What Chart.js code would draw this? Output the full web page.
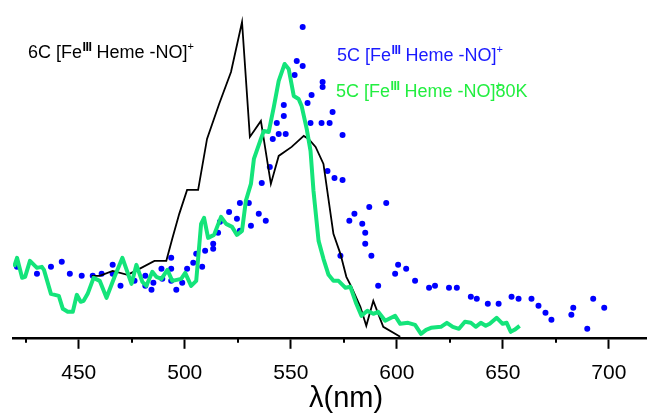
<!DOCTYPE html>
<html>
<head>
<meta charset="utf-8">
<script src="https://cdn.jsdelivr.net/npm/chart.js@4.4.1/dist/chart.umd.min.js"></script>
<style>
  html, body { margin: 0; padding: 0; background: #fff; }
  #wrap { position: relative; width: 650px; height: 415px; overflow: hidden; }
  canvas { position: absolute; left: 0; top: 0; }
  .lab { position: absolute; white-space: nowrap; font-family: "Liberation Sans", Arial, sans-serif; font-size: 18px; line-height: 18px; }
  .lab .s3 { font-size: 12.5px; font-weight: bold; position: relative; top: -7px; letter-spacing: -0.5px; margin-left: 0.5px; }
  .lab .sp { font-size: 11px; position: relative; top: -8px; }
  .lab .spz { font-size: 11px; position: relative; top: -8px; display: inline-block; width: 0; overflow: visible; }
  #xtitle { position: absolute; left: 309px; top: 383px; font-family: "Liberation Sans", Arial, sans-serif; font-size: 29px; line-height: 29px; color: #000; white-space: nowrap; }
</style>
</head>
<body>
<div id="wrap">
  <canvas id="c" width="650" height="415"></canvas>
  <div class="lab" style="left:28px; top:43px; color:#000;">6C [Fe<span class="s3">III</span> Heme -NO]<span class="sp">+</span></div>
  <div class="lab" style="left:337px; top:46px; color:#1a1aff;">5C [Fe<span class="s3">III</span> Heme -NO]<span class="sp">+</span></div>
  <div class="lab" style="left:336px; top:82px; color:#22ee40;">5C [Fe<span class="s3">III</span> Heme -NO]<span class="spz">+</span>80K</div>
  <div id="xtitle">λ(nm)</div>
</div>
<script>
// x axis: wavelength (nm); y: relative intensity (arbitrary units)
const xTicks = [450, 500, 550, 600, 650, 700];
const xMinorTicks = [425, 475, 525, 575, 625, 675];

// 6C [Fe(III) Heme-NO]+  (black line)
const sixCNm  = [456.1, 459.9, 466.0, 473.0, 478.6, 485.7, 491.3, 494.1, 497.4, 501.1, 506.3, 510.5, 516.2, 521.8, 527.0, 530.7, 535.9, 540.6, 544.3, 550.4, 556.1, 558.4, 561.7, 565.4, 570.1, 573.4, 576.2, 578.6, 582.8, 585.6, 588.9, 593.6, 601.6];
const sixCInt = [62, 62, 67, 63, 69, 77, 77, 99, 124, 148, 148, 199, 234, 266, 316, 201, 217, 154, 182, 191, 202, 199, 191, 174, 104, 84, 61, 51, 31, 12, 37, 11, 1];

// 5C [Fe(III) Heme-NO]+  (blue dots)
const fiveCNm  = [420.9, 430.3, 436.9, 442.0, 445.8, 451.4, 456.6, 460.8, 466.0, 466.0, 469.7, 476.3, 481.4, 481.4, 484.3, 485.2, 489.0, 489.4, 493.6, 493.6, 493.6, 496.0, 498.8, 501.1, 504.0, 505.4, 508.2, 509.6, 513.4, 513.4, 515.7, 516.6, 520.9, 524.6, 526.0, 526.0, 530.2, 531.2, 534.9, 538.2, 536.3, 540.1, 541.5, 544.3, 547.6, 543.4, 546.7, 546.7, 551.8, 552.8, 555.6, 555.6, 557.9, 559.8, 559.3, 564.5, 568.3, 565.0, 565.0, 569.7, 574.4, 567.3, 570.6, 574.4, 573.4, 577.6, 580.0, 583.7, 585.1, 585.1, 587.0, 588.0, 591.2, 595.0, 599.2, 600.6, 604.4, 608.6, 615.2, 618.0, 624.6, 628.3, 634.9, 637.7, 642.9, 648.0, 654.1, 657.4, 663.5, 666.8, 670.1, 672.9, 682.3, 683.2, 689.8, 692.6, 697.8];
const fiveCInt = [71, 64, 71, 76, 64, 62, 62, 64, 73, 64, 52, 57, 62, 52, 48, 55, 69, 59, 80, 69, 57, 48, 55, 69, 75, 84, 71, 87, 89, 94, 105, 116, 126, 119, 135, 107, 135, 112, 124, 117, 155, 171, 199, 204, 204, 215, 222, 233, 263, 277, 272, 311, 235, 243, 215, 215, 215, 256, 251, 226, 203, 167, 160, 158, 82, 117, 124, 114, 105, 94, 131, 82, 52, 135, 64, 73, 69, 57, 50, 52, 50, 50, 41, 39, 34, 34, 41, 39, 39, 32, 25, 18, 23, 30, 9, 39, 30];

// 5C [Fe(III) Heme-NO]+ 80K  (green line)
const fiveC80Nm  = [419.5, 420.9, 423.3, 424.7, 427.0, 430.3, 432.6, 433.6, 436.9, 440.6, 442.5, 444.8, 447.2, 449.1, 450.9, 452.3, 454.2, 457.0, 459.9, 463.1, 466.9, 470.6, 474.9, 477.2, 480.0, 481.9, 484.7, 486.6, 489.0, 491.8, 494.1, 498.3, 500.2, 503.0, 505.4, 507.7, 509.1, 511.0, 513.8, 517.1, 519.5, 522.3, 524.6, 527.0, 528.8, 531.2, 532.6, 535.9, 537.3, 539.6, 542.0, 544.3, 547.1, 549.0, 551.4, 553.7, 555.1, 557.5, 559.3, 560.7, 563.1, 565.4, 567.8, 570.1, 572.5, 575.8, 578.1, 580.9, 583.3, 586.1, 588.9, 591.2, 594.5, 599.2, 601.6, 605.3, 608.6, 611.4, 613.8, 616.1, 620.8, 623.6, 626.4, 629.3, 632.1, 634.9, 637.2, 639.6, 641.9, 643.8, 647.1, 649.9, 651.8, 653.7, 655.5, 657.9];
const fiveC80Int = [71, 80, 60, 61, 77, 70, 71, 68, 44, 42, 29, 26, 26, 43, 36, 37, 44, 60, 57, 40, 61, 80, 54, 73, 56, 52, 66, 61, 59, 68, 57, 59, 65, 52, 57, 114, 120, 100, 103, 121, 114, 111, 103, 107, 137, 154, 179, 199, 207, 206, 231, 257, 274, 269, 242, 239, 232, 209, 187, 147, 97, 79, 63, 57, 57, 50, 51, 34, 22, 27, 24, 26, 17, 22, 14, 15, 13, 4, 8, 10, 11, 15, 11, 9, 16, 15, 11, 15, 12, 14, 20, 14, 15, 6, 8, 12];

const pts = (xs, ys) => xs.map((x, i) => ({ x: x, y: ys[i] }));

const minorTicks = {
  id: 'minorTicks',
  afterDraw(chart) {
    const s = chart.scales.x, ctx = chart.ctx, b = chart.chartArea.bottom;
    ctx.save();
    ctx.strokeStyle = '#000';
    ctx.lineWidth = 2;
    xMinorTicks.forEach(v => {
      const x = Math.round(s.getPixelForValue(v));
      ctx.beginPath(); ctx.moveTo(x, b); ctx.lineTo(x, b + 5); ctx.stroke();
    });
    ctx.restore();
  }
};

new Chart(document.getElementById('c'), {
  type: 'line',
  data: {
    datasets: [
      { label: '5C [FeIII Heme -NO]+80K', data: pts(fiveC80Nm, fiveC80Int), borderColor: '#14e47a', borderWidth: 4, pointRadius: 0, tension: 0, fill: false, borderJoinStyle: 'round' },
      { label: '6C [FeIII Heme -NO]+', data: pts(sixCNm, sixCInt), borderColor: '#000', borderWidth: 1.8, pointRadius: 0, tension: 0, fill: false },
      { label: '5C [FeIII Heme -NO]+', data: pts(fiveCNm, fiveCInt), showLine: false, pointRadius: 3, pointBackgroundColor: '#0000ff', pointBorderWidth: 0, borderColor: '#0000ff' }
    ]
  },
  options: {
    responsive: false,
    devicePixelRatio: 1,
    animation: false,
    layout: { padding: { left: 13, right: 0, top: 0, bottom: 17 } },
    plugins: { legend: { display: false }, tooltip: { enabled: false } },
    scales: {
      x: {
        type: 'linear', min: 419, max: 717.5,
        afterBuildTicks: (scale) => { scale.ticks = xTicks.map(v => ({ value: v })); },
        grid: { drawOnChartArea: false, drawTicks: true, tickLength: 11, tickColor: '#000', tickWidth: 2 },
        border: { display: true, color: '#000', width: 2.5 },
        ticks: { color: '#000', padding: 12, maxRotation: 0, font: { family: '"Liberation Sans", Arial, sans-serif', size: 21 } },
        title: { display: false }
      },
      y: { display: false, min: 0, max: 334 }
    }
  },
  plugins: [minorTicks]
});
</script>
</body>
</html>
